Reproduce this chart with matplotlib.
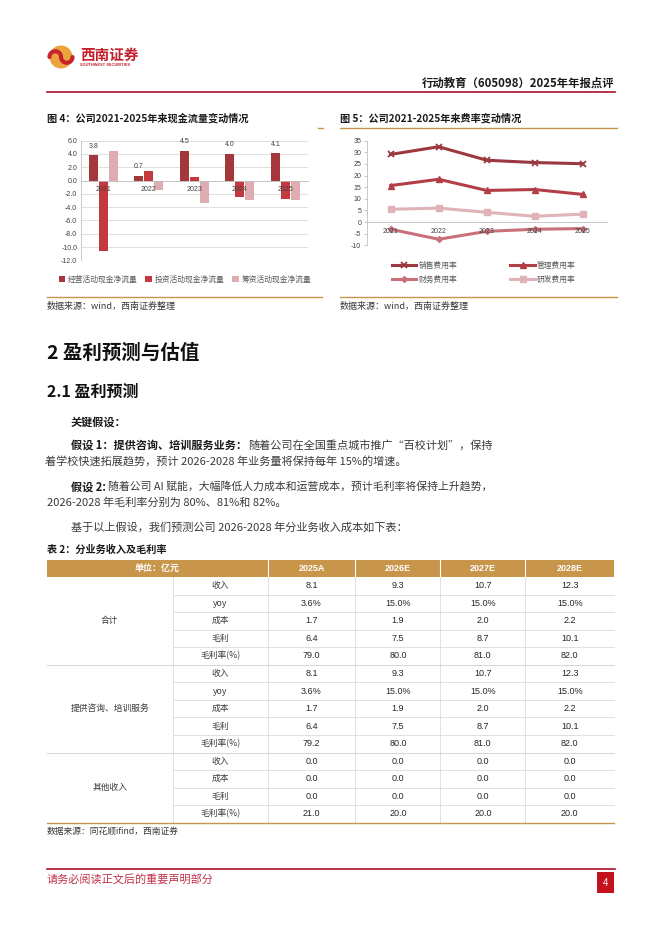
import matplotlib

matplotlib.use("Agg")
import matplotlib.pyplot as plt
import numpy as np
from matplotlib.patches import Circle, Rectangle

plt.rcParams["font.family"] = ["Noto Sans CJK SC", "DejaVu Sans"]
plt.rcParams["axes.unicode_minus"] = False

W, H = 662, 936

# chart data
years = ["2021", "2022", "2023", "2024", "2025"]
cf_operating = [3.8, 0.7, 4.5, 4.0, 4.1]
cf_investing = [-10.6, 1.5, 0.6, -2.4, -2.7]
cf_financing = [4.4, -1.4, -3.4, -2.9, -2.9]

rate_selling = [29.1, 32.4, 26.6, 25.6, 25.1]
rate_admin = [15.7, 18.4, 13.6, 14.0, 11.9]
rate_finance = [-3.1, -7.4, -4.0, -3.1, -2.8]
rate_rd = [5.5, 6.0, 4.2, 2.5, 3.4]

# table data
table_years = ["2025A", "2026E", "2027E", "2028E"]
table_groups = ["合计", "提供咨询、培训服务", "其他收入"]
total_rows = {
    "收入": [8.1, 9.3, 10.7, 12.3],
    "yoy": [3.6, 15.0, 15.0, 15.0],
    "成本": [1.7, 1.9, 2.0, 2.2],
    "毛利": [6.4, 7.5, 8.7, 10.1],
    "毛利率(%)": [79.0, 80.0, 81.0, 82.0],
}
consult_rows = {
    "收入": [8.1, 9.3, 10.7, 12.3],
    "yoy": [3.6, 15.0, 15.0, 15.0],
    "成本": [1.7, 1.9, 2.0, 2.2],
    "毛利": [6.4, 7.5, 8.7, 10.1],
    "毛利率(%)": [79.2, 80.0, 81.0, 82.0],
}
other_rows = {
    "收入": [0.0, 0.0, 0.0, 0.0],
    "成本": [0.0, 0.0, 0.0, 0.0],
    "毛利": [0.0, 0.0, 0.0, 0.0],
    "毛利率(%)": [21.0, 20.0, 20.0, 20.0],
}
group_rows = [total_rows, consult_rows, other_rows]

RED = "#a8102c"
GOLD = "#c8964b"
TXT = "#3a3a3a"
NUM_FONT = ["Liberation Sans", "DejaVu Sans"]


def rect(x0, y0, x1, y1):
    return [x0 / W, 1 - y1 / H, (x1 - x0) / W, (y1 - y0) / H]


def style_axes(ax):
    for s in ("top", "right"):
        ax.spines[s].set_visible(False)
    for s in ("left", "bottom"):
        ax.spines[s].set_color("#bfbfbf")
        ax.spines[s].set_linewidth(0.6)
    ax.spines["bottom"].set_position(("data", 0))
    ax.set_axisbelow(False)


fig = plt.figure(figsize=(W / 100, H / 100), dpi=100)
page = fig.add_axes([0, 0, 1, 1])
page.set_xlim(0, W)
page.set_ylim(H, 0)
page.axis("off")

# ---- header
cx, cy, r = 61, 57, 11.5
page.add_patch(Circle((cx, cy), r, fc="#eba43d", ec="none"))
t = np.linspace(0, np.pi, 40)
sx = np.concatenate([cx - 0.5 * r * np.sin(t), cx + 0.5 * r * np.sin(t)])
sy = np.concatenate([cy - r + 0.5 * r * (1 - np.cos(t)), cy + 0.5 * r * (1 - np.cos(t))])
page.plot(sy - cy + cx, sx - cx + cy, color="#c8232c", lw=3, solid_capstyle="round")
page.text(80, 55, "西南证券", fontsize=10.5, fontweight="bold", color="#c3202a", va="center")
page.text(80, 65, "SOUTHWEST SECURITIES", fontsize=2.9, color="#c3202a", va="center",
          family=NUM_FONT, fontweight="bold")
page.text(614, 83, "行动教育（605098）2025年年报点评", fontsize=8.2, fontweight="bold",
          color="#1a1a1a", ha="right", va="center")
page.plot([47, 615], [92, 92], color=RED, lw=1.2)

# ---- figure captions
page.text(47, 118, "图 4：公司2021-2025年来现金流量变动情况", fontsize=7.3, fontweight="bold",
          color="#1a1a1a", va="center")
page.text(340, 118, "图 5：公司2021-2025年来费率变动情况", fontsize=7.3, fontweight="bold",
          color="#1a1a1a", va="center")
page.plot([318, 323], [128, 128], color=GOLD, lw=1)
page.plot([340, 617], [128, 128], color=GOLD, lw=1)
page.plot([47, 322], [296.5, 296.5], color=GOLD, lw=1)
page.plot([340, 617], [296.5, 296.5], color=GOLD, lw=1)
page.text(47, 306, "数据来源：wind，西南证券整理", fontsize=6.5, color=TXT, va="center")
page.text(340, 306, "数据来源：wind，西南证券整理", fontsize=6.5, color=TXT, va="center")

# ---- chart 4: cash flow bars
C_DARK, C_MID, C_LIGHT = "#a3373b", "#c4393f", "#dfadb1"
ax1 = fig.add_axes(rect(80.7, 140.7, 308, 260.3))
x = np.arange(len(years))
b1 = ax1.bar(x - 0.22, cf_operating, 0.2, color=C_DARK, label="经营活动现金净流量", zorder=1)
ax1.bar(x, cf_investing, 0.2, color=C_MID, label="投资活动现金净流量", zorder=1)
ax1.bar(x + 0.22, cf_financing, 0.2, color=C_LIGHT, label="筹资活动现金净流量", zorder=1)
ax1.bar_label(b1, fmt="%.1f", padding=4, fontsize=5, color="#404040", family=NUM_FONT)
ax1.set_xlim(-0.5, 4.5)
ax1.set_ylim(-12, 6)
yt = np.arange(-12, 6.1, 2)
ax1.set_yticks(yt)
for yv in yt:
    ax1.axhline(yv, color="#d9d9d9", lw=0.6, zorder=0.3)
ax1.yaxis.set_major_formatter("{x:.1f}")
ax1.set_xticks(x, years)
style_axes(ax1)
ax1.tick_params(axis="both", length=0, labelsize=5, labelcolor="#404040")
ax1.tick_params(axis="y", pad=2.5)
ax1.tick_params(axis="x", pad=4)
for lb in ax1.get_xticklabels() + ax1.get_yticklabels():
    lb.set_family(NUM_FONT)
ax1.legend(loc="center", bbox_to_anchor=(185 / W, 1 - 280 / H), bbox_transform=fig.transFigure,
           ncol=3, frameon=False, fontsize=5.6, handlelength=0.8, handleheight=0.8,
           handletextpad=0.4, columnspacing=1.0, labelcolor="#595959")

# ---- chart 5: expense ratios
ax2 = fig.add_axes(rect(366.7, 140.7, 606.7, 245.3))
l_sell, = ax2.plot(x, rate_selling, color="#9c3840", lw=2.2, marker="x", ms=5, mew=1.3,
                   label="销售费用率", zorder=1)
l_admin, = ax2.plot(x, rate_admin, color="#b33e47", lw=2.2, marker="^", ms=5,
                    label="管理费用率", zorder=1)
l_fin, = ax2.plot(x, rate_finance, color="#c9707a", lw=2.2, marker="D", ms=3,
                  label="财务费用率", zorder=1)
l_rd, = ax2.plot(x, rate_rd, color="#e0b3b8", lw=2.2, marker="s", ms=4.5,
                 label="研发费用率", zorder=1)
ax2.set_xlim(-0.5, 4.5)
ax2.set_ylim(-10, 35)
ax2.set_yticks(np.arange(-10, 36, 5))
ax2.set_xticks(x, years)
style_axes(ax2)
ax2.tick_params(axis="both", labelsize=5, labelcolor="#404040")
ax2.tick_params(axis="y", length=2, width=0.6, color="#bfbfbf", pad=2)
ax2.tick_params(axis="x", length=0, pad=4)
for lb in ax2.get_xticklabels() + ax2.get_yticklabels():
    lb.set_family(NUM_FONT)
ax2.legend(handles=[l_sell, l_fin, l_admin, l_rd], loc="center",
           bbox_to_anchor=(484 / W, 1 - 273 / H), bbox_transform=fig.transFigure,
           ncol=2, frameon=False, fontsize=5.6, handlelength=3.1, handletextpad=0.3,
           columnspacing=6.8, labelspacing=0.75, labelcolor="#595959")

# ---- section text
page.text(47, 353, "2 盈利预测与估值", fontsize=14, fontweight="bold", color="#111111", va="center")
page.text(47, 392, "2.1 盈利预测", fontsize=11.5, fontweight="bold", color="#111111", va="center")
page.text(71, 422, "关键假设：", fontsize=8, fontweight="bold", color="#1a1a1a", va="center")
page.text(71, 445, "假设 1：提供咨询、培训服务业务：", fontsize=8, fontweight="bold",
          color="#1a1a1a", va="center")
page.text(248, 445, "随着公司在全国重点城市推广“百校计划”，保持", fontsize=8, color=TXT,
          va="center")
page.text(45, 462, "着学校快速拓展趋势，预计 2026-2028 年业务量将保持每年 15%的增速。",
          fontsize=8, color=TXT, va="center")
page.text(71, 487, "假设 2:", fontsize=8, fontweight="bold", color="#1a1a1a", va="center")
page.text(108, 487, "随着公司 AI 赋能，大幅降低人力成本和运营成本，预计毛利率将保持上升趋势，",
          fontsize=7.8, color=TXT, va="center")
page.text(47, 503, "2026-2028 年毛利率分别为 80%、81%和 82%。", fontsize=8, color=TXT, va="center")
page.text(71, 527, "基于以上假设，我们预测公司 2026-2028 年分业务收入成本如下表：", fontsize=8,
          color=TXT, va="center")
page.text(47, 550, "表 2：分业务收入及毛利率", fontsize=7.3, fontweight="bold", color="#1a1a1a",
          va="center")

# ---- table
col_edges = [47, 172.6, 267.5, 355.4, 440.4, 525.3, 614]
head_top, head_bot = 559.5, 577
row_h = 17.55
n_rows = sum(len(g) for g in group_rows)
tbl_bot = head_bot + n_rows * row_h

page.add_patch(Rectangle((col_edges[0], head_top), col_edges[-1] - col_edges[0],
                         head_bot - head_top, fc=GOLD, ec="none"))
for xe in col_edges[2:-1]:
    page.plot([xe, xe], [head_top, head_bot], color="white", lw=0.8)
hy = (head_top + head_bot) / 2
page.text((col_edges[0] + col_edges[2]) / 2, hy, "单位：亿元", fontsize=6.5, fontweight="bold",
          color="white", ha="center", va="center")
for j, yr in enumerate(table_years):
    page.text((col_edges[j + 2] + col_edges[j + 3]) / 2, hy, yr, fontsize=6.5, fontweight="bold",
              color="white", ha="center", va="center", family=NUM_FONT)

for xe in col_edges[1:-1]:
    page.plot([xe, xe], [head_bot, tbl_bot], color="#dcdcdc", lw=0.6)

k = 0
for gi, (gname, rows) in enumerate(zip(table_groups, group_rows)):
    g_top = head_bot + k * row_h
    for ri, (item, vals) in enumerate(rows.items()):
        yc = head_bot + (k + 0.5) * row_h
        page.text((col_edges[1] + col_edges[2]) / 2, yc, item, fontsize=6.3, color=TXT,
                  ha="center", va="center")
        for j, v in enumerate(vals):
            s = f"{v:.1f}%" if item == "yoy" else f"{v:.1f}"
            page.text((col_edges[j + 2] + col_edges[j + 3]) / 2, yc, s, fontsize=6.5,
                      color="#262626", ha="center", va="center", family=NUM_FONT)
        k += 1
        yl = head_bot + k * row_h
        if ri < len(rows) - 1:
            page.plot([col_edges[1], col_edges[-1]], [yl, yl], color="#dcdcdc", lw=0.6)
    g_bot = head_bot + k * row_h
    page.text((col_edges[0] + col_edges[1]) / 2, (g_top + g_bot) / 2, gname, fontsize=6.3,
              color=TXT, ha="center", va="center")
    if gi < len(table_groups) - 1:
        page.plot([col_edges[0], col_edges[-1]], [g_bot, g_bot], color="#cfcfcf", lw=0.6)
page.plot([col_edges[0], col_edges[-1]], [tbl_bot, tbl_bot], color=GOLD, lw=1)
page.text(47, 831, "数据来源：同花顺ifind，西南证券", fontsize=6.3, color=TXT, va="center")

# ---- footer
page.plot([47, 615], [869, 869], color=RED, lw=1.2)
page.text(47, 879, "请务必阅读正文后的重要声明部分", fontsize=8, color="#c0304a", va="center")
page.add_patch(Rectangle((597, 872), 17, 21, fc="#c4111e", ec="none"))
page.text(605.5, 882.5, "4", fontsize=7, color="white", ha="center", va="center", family=NUM_FONT)

fig.savefig("out.png", dpi=100)
